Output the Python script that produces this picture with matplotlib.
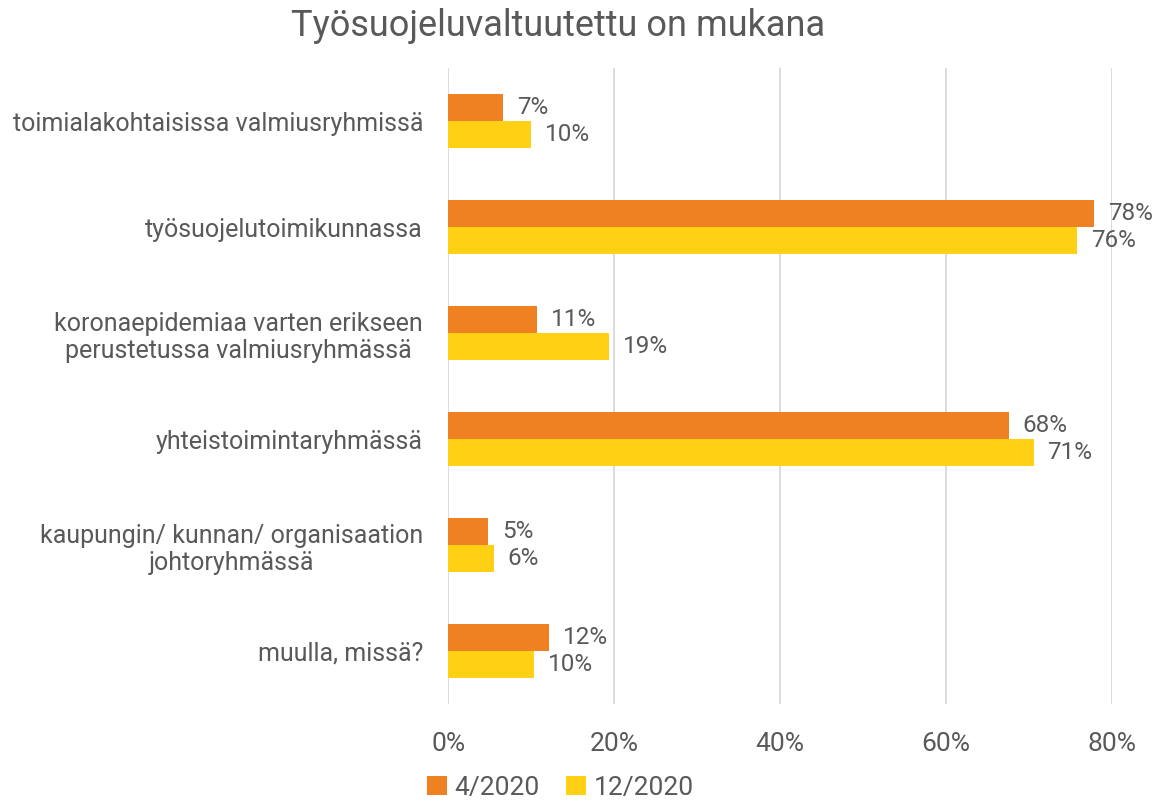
import matplotlib
matplotlib.use("Agg")
import matplotlib.pyplot as plt
import numpy as np

plt.rcParams['font.family'] = ['Roboto', 'DejaVu Sans']

title = "Työsuojeluvaltuutettu on mukana"
categories = [
    "toimialakohtaisissa valmiusryhmissä",
    "työsuojelutoimikunnassa",
    "koronaepidemiaa varten erikseen\nperustetussa valmiusryhmässä",
    "yhteistoimintaryhmässä",
    "kaupungin/ kunnan/ organisaation\njohtoryhmässä",
    "muulla, missä?",
]
series_names = ["4/2020", "12/2020"]
apr_2020 = [6.6, 77.9, 10.7, 67.6, 4.8, 12.2]
dec_2020 = [10.0, 75.8, 19.4, 70.6, 5.5, 10.4]
xticks = [0, 20, 40, 60, 80]

colors = ["#F08122", "#FFD014"]
text_color = "#595959"

fig = plt.figure(figsize=(11.58, 8.02), dpi=100)
ax = fig.add_axes([0.387, 0.122, 0.573, 0.793])

y = np.arange(len(categories))
h = 0.255
b1 = ax.barh(y - h / 2, apr_2020, height=h, color=colors[0], label=series_names[0])
b2 = ax.barh(y + h / 2, dec_2020, height=h, color=colors[1], label=series_names[1])

for bars, vals in [(b1, apr_2020), (b2, dec_2020)]:
    for bar, v in zip(bars, vals):
        ax.annotate(f"{v:.0f}%", (bar.get_width(), bar.get_y() + bar.get_height() / 2),
                    xytext=(10, 0), textcoords="offset points", va="center", ha="left",
                    fontsize=17.5, color=text_color, annotation_clip=False)

ax.set_ylim(len(categories) - 0.5, -0.5)
ax.set_xlim(0, 80)
ax.set_yticks(y)
ax.set_yticklabels(categories, fontsize=18, color=text_color, ha="right")
ax.set_xticks(xticks)
ax.set_xticklabels([f"{t}%" for t in xticks], fontsize=19, color=text_color)
ax.tick_params(axis="both", length=0)
ax.tick_params(axis="x", pad=20)
ax.tick_params(axis="y", pad=18)
for lab in ax.get_yticklabels():
    lab.set_multialignment("center")

ax.grid(axis="x", color="#D9D9D9", linewidth=1.3)
ax.set_axisbelow(True)
for s in ax.spines.values():
    s.set_visible(False)

fig.text(0.482, 0.968, title, ha="center", va="center", fontsize=26, color=text_color)

leg = fig.legend(loc="center", bbox_to_anchor=(0.484, 0.018), ncol=2, frameon=False,
                 fontsize=19, handlelength=0.75, handleheight=0.75, columnspacing=1.0,
                 handletextpad=0.3, labelcolor=text_color)

fig.savefig("out.png", dpi=100)
